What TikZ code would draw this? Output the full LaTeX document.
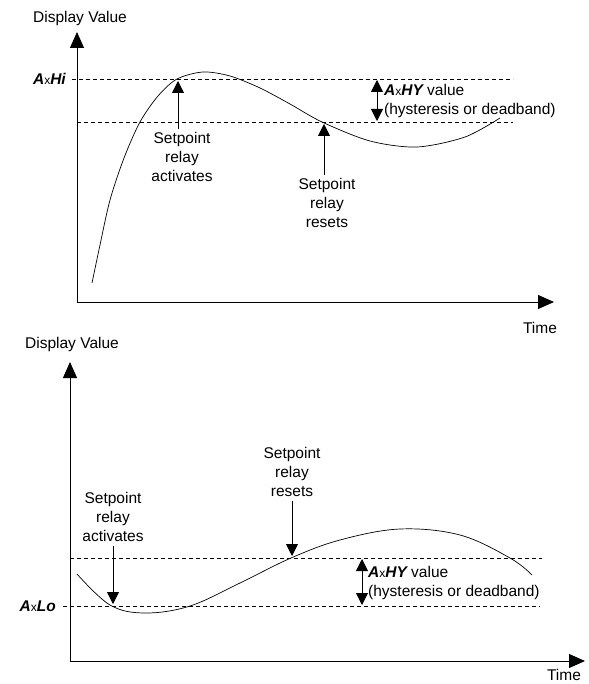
\documentclass[tikz,border=0pt]{standalone}
\usepackage{fontspec}
\setmainfont{Liberation Sans}
\usetikzlibrary{arrows.meta}
\newcommand{\segcode}[1]{{\bfseries\itshape #1}}
\tikzset{
  axis/.style={line width=0.9pt, {Triangle[length=16pt,width=14pt]}-{Triangle[length=16pt,width=14pt]}},
  level/.style={dashed, dash pattern=on 4pt off 3pt, line width=0.6pt},
  pointer/.style={line width=0.8pt, -{Triangle[length=12pt,width=12pt]}},
  band/.style={line width=0.8pt, {Triangle[length=12pt,width=12pt]}-{Triangle[length=12pt,width=12pt]}},
  response/.style={line width=0.7pt},
  lbl/.style={font=\fontsize{15.5}{19}\selectfont, align=center, inner sep=0pt},
}
\begin{document}
\begin{tikzpicture}[x=1pt,y=-1pt]
  \useasboundingbox (0,0) rectangle (588,684);
  % high setpoint
  \node[lbl] (dvA) at (80,18) {Display Value};
  \coordinate (oA) at (77,302);
  \coordinate (yA) at (77,32);
  \coordinate (xA) at (554,302);
  \draw[axis] (yA) -- (oA) -- (xA);
  \node[lbl] (timeA) at (540,328) {Time};
  \node[lbl, anchor=east] (hiA) at (66,79) {\segcode{A}{\fontsize{12}{12}\selectfont x}\segcode{Hi}};
  \coordinate (hiAs) at (72,79);
  \coordinate (hiAe) at (513,79);
  \coordinate (loAs) at (77,122);
  \coordinate (loAe) at (513,122);
  \draw[level] (hiAs) -- (hiAe);
  \draw[level] (loAs) -- (loAe);
  \draw[response] plot[smooth, tension=0.5] coordinates {(92,283) (100,245) (110,200) (124,158) (140,122) (158,96) (177,79) (203,72) (230,76) (260,88) (290,104) (322,122) (370,141) (417,147) (465,137) (500,118)};
  \node[lbl] (actA) at (182,157) {Setpoint\\relay\\activates};
  \coordinate (actAt) at (178,81);
  \draw[pointer] (actA.north -| actAt) ++(0,-3) -- (actAt);
  \node[lbl] (resA) at (327,203) {Setpoint\\relay\\resets};
  \coordinate (resAt) at (324,124);
  \draw[pointer] (resA.north -| resAt) ++(0,-3) -- (resAt);
  \coordinate (bandAt) at (377,80);
  \coordinate (bandAb) at (377,121);
  \draw[band] (bandAt) -- (bandAb);
  \node[lbl, anchor=west, align=left] (hysA) at (384,101) {\segcode{A}{\fontsize{12}{12}\selectfont x}\segcode{HY} value\\(hysteresis or deadband)};
  % low setpoint
  \node[lbl] (dvB) at (72,344) {Display Value};
  \coordinate (oB) at (70,661);
  \coordinate (yB) at (70,362);
  \coordinate (xB) at (585,661);
  \draw[axis] (yB) -- (oB) -- (xB);
  \node[lbl] (timeB) at (564,675) {Time};
  \node[lbl, anchor=east] (loB) at (56,606) {\segcode{A}{\fontsize{12}{12}\selectfont x}\segcode{Lo}};
  \coordinate (hiBs) at (70,558);
  \coordinate (hiBe) at (542,558);
  \coordinate (loBs) at (63,606);
  \coordinate (loBe) at (540,606);
  \draw[level] (hiBs) -- (hiBe);
  \draw[level] (loBs) -- (loBe);
  \draw[response] plot[smooth, tension=0.6] coordinates {(77,574) (110,605) (145,613) (190,606) (240,583) (291,558) (340,540) (400,529) (460,535) (510,558) (532,575)};
  \node[lbl] (actB) at (113,517) {Setpoint\\relay\\activates};
  \coordinate (actBt) at (113,604);
  \draw[pointer] (actB.south -| actBt) ++(0,4) -- (actBt);
  \node[lbl] (resB) at (292,472) {Setpoint\\relay\\resets};
  \coordinate (resBt) at (292,556);
  \draw[pointer] (resB.south -| resBt) ++(0,4) -- (resBt);
  \coordinate (bandBt) at (362,559);
  \coordinate (bandBb) at (362,605);
  \draw[band] (bandBt) -- (bandBb);
  \node[lbl, anchor=west, align=left] (hysB) at (368,583) {\segcode{A}{\fontsize{12}{12}\selectfont x}\segcode{HY} value\\(hysteresis or deadband)};
\end{tikzpicture}
\end{document}
